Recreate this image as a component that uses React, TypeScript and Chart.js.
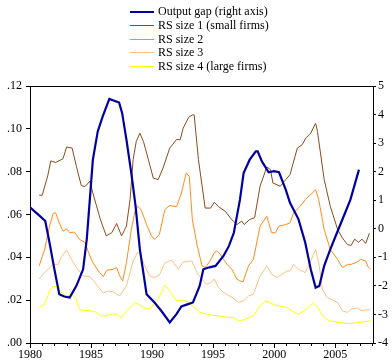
import React, { useEffect, useRef } from "react";
import { Chart, registerables } from "chart.js";

Chart.register(...registerables);

const seriesLabels = [
  "Output gap (right axis)",
  "RS size 1 (small firms)",
  "RS size 2",
  "RS size 3",
  "RS size 4 (large firms)",
];
const seriesColors = ["#0000A0", "#8B4A1A", "#FF8C1A", "#FFC080", "#FFFF00"];

const leftTicks = [0, 0.02, 0.04, 0.06, 0.08, 0.1, 0.12];
const rightTicks = [-4, -3, -2, -1, 0, 1, 2, 3, 4, 5];
const yearTicks = [1980, 1985, 1990, 1995, 2000, 2005];

const outputGap: [number, number][] = [
  [1980.0, 0.75], [1980.35, 0.62], [1980.75, 0.47], [1981.25, 0.27], [1981.6, -0.49],
  [1982.0, -1.42], [1982.4, -2.29], [1982.8, -2.37], [1983.25, -2.41], [1983.8, -2.0],
  [1984.35, -1.42], [1984.65, -0.37], [1984.9, 1.02], [1985.15, 2.42], [1985.55, 3.41],
  [1985.95, 3.93], [1986.5, 4.55], [1987.3, 4.42], [1987.55, 4.05], [1987.9, 3.12],
  [1988.3, 1.95], [1988.65, 0.79], [1989.0, -0.72], [1989.55, -2.29], [1990.2, -2.58],
  [1990.75, -2.87], [1991.45, -3.28], [1992.0, -2.99], [1992.4, -2.72], [1992.95, -2.64],
  [1993.35, -2.58], [1993.9, -2.0], [1994.2, -1.42], [1994.7, -1.35], [1995.2, -1.3],
  [1995.85, -0.95], [1996.3, -0.6], [1996.7, -0.14], [1997.2, 1.02], [1997.5, 1.95],
  [1998.0, 2.42], [1998.5, 2.71], [1998.65, 2.71], [1999.0, 2.36], [1999.55, 1.98],
  [2000.0, 2.02], [2000.4, 1.98], [2000.95, 1.37], [2001.3, 0.91], [2002.0, 0.33],
  [2002.55, -0.49], [2003.0, -1.42], [2003.4, -2.06], [2003.7, -2.0], [2003.9, -1.65],
  [2004.1, -1.3], [2004.6, -0.72], [2005.15, -0.14], [2005.7, 0.44], [2006.25, 1.02],
  [2006.95, 2.07],
];

const rsSize1: [number, number][] = [
  [1980.75, 0.069], [1981.0, 0.069], [1981.45, 0.078], [1981.7, 0.085], [1982.1, 0.0843],
  [1982.7, 0.086], [1983.0, 0.0915], [1983.45, 0.091], [1983.8, 0.0825], [1984.2, 0.0735],
  [1984.5, 0.073], [1984.9, 0.0755], [1985.15, 0.07], [1985.45, 0.064], [1985.75, 0.058],
  [1986.25, 0.05], [1986.7, 0.0515], [1987.1, 0.0558], [1987.5, 0.05], [1987.9, 0.0546],
  [1988.2, 0.067], [1988.45, 0.0856], [1988.7, 0.094], [1989.0, 0.098], [1989.3, 0.094],
  [1989.7, 0.0856], [1990.1, 0.077], [1990.5, 0.0763], [1990.9, 0.0817], [1991.45, 0.091],
  [1992.0, 0.095], [1992.3, 0.0949], [1992.55, 0.1003], [1993.0, 0.1054], [1993.3, 0.1065],
  [1993.45, 0.1065], [1993.8, 0.0856], [1994.35, 0.063], [1994.8, 0.063], [1995.1, 0.0657],
  [1995.45, 0.0636], [1996.0, 0.0615], [1996.4, 0.0585], [1996.65, 0.0569], [1996.95, 0.0553],
  [1997.35, 0.0569], [1997.55, 0.0553], [1998.0, 0.0577], [1998.4, 0.0585], [1998.85, 0.0732],
  [1999.4, 0.0822], [1999.7, 0.081], [1999.9, 0.0747], [2000.5, 0.0732], [2000.95, 0.0763],
  [2001.3, 0.0786], [2001.9, 0.091], [2002.3, 0.0926], [2002.6, 0.0957], [2003.0, 0.098],
  [2003.4, 0.1026], [2003.55, 0.0988], [2004.1, 0.0763], [2004.6, 0.0639], [2005.2, 0.053],
  [2005.6, 0.049], [2006.0, 0.046], [2006.3, 0.0455], [2006.6, 0.0485], [2006.9, 0.047],
  [2007.2, 0.0485], [2007.5, 0.0465], [2007.8, 0.0512],
];

const rsSize2: [number, number][] = [
  [1980.75, 0.036], [1981.2, 0.0437], [1981.6, 0.0546], [1981.9, 0.0605], [1982.1, 0.0608],
  [1982.4, 0.0561], [1982.7, 0.0522], [1983.0, 0.0533], [1983.25, 0.0515], [1983.65, 0.0518],
  [1984.05, 0.0484], [1984.5, 0.047], [1984.75, 0.043], [1985.15, 0.0375], [1985.7, 0.0329],
  [1986.0, 0.031], [1986.3, 0.034], [1986.8, 0.0344], [1987.1, 0.0352], [1987.35, 0.0313],
  [1987.6, 0.029], [1987.9, 0.0375], [1988.3, 0.053], [1988.6, 0.0615], [1988.8, 0.0639],
  [1989.1, 0.0623], [1989.55, 0.0553], [1989.95, 0.05], [1990.2, 0.0484], [1990.6, 0.0507],
  [1991.05, 0.0623], [1991.45, 0.0642], [1992.0, 0.0636], [1992.4, 0.07], [1992.8, 0.0794],
  [1993.05, 0.0778], [1993.3, 0.0577], [1993.7, 0.0453], [1994.1, 0.036], [1994.35, 0.0352],
  [1994.75, 0.0383], [1995.1, 0.0422], [1995.3, 0.043], [1995.6, 0.0414], [1995.85, 0.039],
  [1996.25, 0.036], [1996.55, 0.0344], [1996.95, 0.0298], [1997.2, 0.029], [1997.45, 0.0285],
  [1997.9, 0.036], [1998.3, 0.039], [1998.85, 0.0546], [1999.4, 0.0592], [1999.8, 0.0515],
  [2000.1, 0.0515], [2000.4, 0.0546], [2000.95, 0.0553], [2001.3, 0.0561], [2001.6, 0.0608],
  [2002.15, 0.0639], [2002.55, 0.067], [2003.0, 0.0693], [2003.4, 0.0716], [2003.65, 0.067],
  [2003.95, 0.0577], [2004.1, 0.053], [2004.6, 0.0437], [2005.2, 0.039], [2005.6, 0.0352],
  [2006.0, 0.0367], [2006.3, 0.0367], [2006.7, 0.0375], [2007.1, 0.039], [2007.5, 0.0383],
  [2007.7, 0.0355], [2007.9, 0.0345],
];

const rsSize3: [number, number][] = [
  [1980.75, 0.03], [1981.2, 0.0329], [1981.9, 0.0367], [1982.3, 0.0367], [1982.55, 0.0399],
  [1983.0, 0.0434], [1983.4, 0.039], [1983.8, 0.0352], [1984.35, 0.0313], [1984.9, 0.031],
  [1985.45, 0.0274], [1986.0, 0.0233], [1986.4, 0.0243], [1986.8, 0.0239], [1987.35, 0.022],
  [1987.9, 0.0267], [1988.45, 0.0383], [1988.8, 0.0422], [1989.0, 0.0419], [1989.4, 0.036],
  [1989.8, 0.0313], [1990.2, 0.0306], [1990.6, 0.0316], [1991.05, 0.0375], [1991.6, 0.0387],
  [1992.15, 0.0344], [1992.55, 0.0378], [1993.25, 0.0383], [1993.75, 0.0321], [1994.45, 0.0274],
  [1994.8, 0.0282], [1995.1, 0.0298], [1995.45, 0.0259], [1995.85, 0.0236], [1996.55, 0.0213],
  [1997.1, 0.0189], [1997.5, 0.0197], [1997.9, 0.022], [1998.3, 0.0228], [1998.85, 0.0313],
  [1999.4, 0.036], [1999.8, 0.0321], [2000.25, 0.0306], [2000.65, 0.0321], [2001.05, 0.0336],
  [2001.3, 0.0336], [2001.6, 0.0367], [2002.0, 0.0344], [2002.55, 0.0329], [2003.0, 0.0383],
  [2003.4, 0.0437], [2003.7, 0.036], [2003.95, 0.0251], [2004.35, 0.0213], [2005.2, 0.0189],
  [2005.6, 0.015], [2006.0, 0.0143], [2006.3, 0.0158], [2006.8, 0.0164], [2007.2, 0.015],
  [2007.5, 0.0155], [2007.9, 0.0155],
];

const rsSize4: [number, number][] = [
  [1980.75, 0.0166], [1981.2, 0.0181], [1981.6, 0.0243], [1981.9, 0.0264], [1982.2, 0.0264],
  [1982.55, 0.0236], [1983.0, 0.022], [1983.4, 0.0228], [1983.8, 0.0205], [1984.05, 0.0155],
  [1985.0, 0.015], [1985.45, 0.0143], [1985.85, 0.0127], [1986.25, 0.0127], [1986.65, 0.0135],
  [1987.1, 0.0135], [1987.5, 0.0118], [1987.9, 0.015], [1988.6, 0.0189], [1989.0, 0.0177],
  [1989.55, 0.0158], [1989.95, 0.0166], [1990.5, 0.0205], [1991.05, 0.027], [1991.45, 0.0243],
  [1992.0, 0.0197], [1992.55, 0.0201], [1993.1, 0.0186], [1993.9, 0.0143], [1994.75, 0.0131],
  [1995.6, 0.0125], [1996.2, 0.012], [1996.7, 0.0118], [1997.1, 0.0104], [1997.5, 0.0108],
  [1998.3, 0.0127], [1998.85, 0.0174], [1999.3, 0.0197], [2000.1, 0.0177], [2000.5, 0.0172],
  [2001.05, 0.0166], [2001.5, 0.0148], [2002.0, 0.0135], [2002.45, 0.015], [2002.8, 0.0166],
  [2003.2, 0.0189], [2003.45, 0.0174], [2004.1, 0.012], [2004.5, 0.0104], [2005.0, 0.0099],
  [2005.7, 0.0093], [2006.3, 0.009], [2006.8, 0.0096], [2007.4, 0.0099], [2007.9, 0.0104],
];

const FONT = "'Liberation Serif', 'Times New Roman', serif";

const frameAndMinorTicks = {
  id: "frameAndMinorTicks",
  afterDraw(chart: any) {
    const { ctx, chartArea, scales } = chart;
    const xs = scales.x;
    ctx.save();
    ctx.strokeStyle = "#000";
    ctx.lineWidth = 1;
    ctx.beginPath();
    const top = Math.round(chartArea.top) + 0.5;
    ctx.moveTo(chartArea.left, top);
    ctx.lineTo(chartArea.right, top);
    const bottom = Math.round(chartArea.bottom);
    for (let yr = Math.ceil(xs.min); yr <= xs.max; yr++) {
      if (yr % 5 === 0) continue;
      const px = Math.round(xs.getPixelForValue(yr)) + 0.5;
      ctx.moveTo(px, bottom);
      ctx.lineTo(px, bottom + 3);
    }
    ctx.stroke();
    ctx.restore();
  },
};

export default function App() {
  const canvasRef = useRef<HTMLCanvasElement | null>(null);

  useEffect(() => {
    const canvas = canvasRef.current;
    if (!canvas) return;
    const series = [outputGap, rsSize1, rsSize2, rsSize3, rsSize4];
    const chart = new Chart(canvas, {
      type: "line",
      data: {
        datasets: series.map((s, i) => ({
          label: seriesLabels[i],
          data: s.map(([x, y]) => ({ x, y })),
          borderColor: seriesColors[i],
          backgroundColor: seriesColors[i],
          borderWidth: i === 0 ? 2.2 : 1,
          pointRadius: 0,
          tension: 0,
          fill: false,
          yAxisID: i === 0 ? "yR" : "yL",
        })),
      },
      options: {
        animation: false,
        responsive: false,
        devicePixelRatio: 1,
        layout: { padding: { top: 86, left: 0, right: 0, bottom: 0 } },
        plugins: { legend: { display: false }, tooltip: { enabled: false } },
        font: { family: FONT, size: 12 },
        scales: {
          x: {
            type: "linear",
            min: 1980,
            max: 2008.1,
            afterBuildTicks: (s: any) => {
              s.ticks = yearTicks.map((v) => ({ value: v }));
            },
            afterFit: (s: any) => {
              s.height = 19;
            },
            ticks: {
              autoSkip: false,
              maxRotation: 0,
              padding: 0,
              color: "#000",
              font: { family: FONT, size: 12 },
              callback: (v: any) => String(v),
            },
            grid: { drawOnChartArea: false, tickLength: 5, tickColor: "#000" },
            border: { display: true, color: "#000", width: 1 },
          },
          yL: {
            type: "linear",
            position: "left",
            min: 0,
            max: 0.12,
            afterBuildTicks: (s: any) => {
              s.ticks = leftTicks.map((v) => ({ value: v }));
            },
            afterFit: (s: any) => {
              s.width = 30;
            },
            ticks: {
              padding: 4,
              color: "#000",
              font: { family: FONT, size: 12 },
              callback: (v: any) => Number(v).toFixed(2).replace(/^0/, ""),
            },
            grid: { drawOnChartArea: false, tickLength: 4, tickColor: "#000" },
            border: { display: true, color: "#000", width: 1 },
          },
          yR: {
            type: "linear",
            position: "right",
            min: -4,
            max: 5,
            afterBuildTicks: (s: any) => {
              s.ticks = rightTicks.map((v) => ({ value: v }));
            },
            afterFit: (s: any) => {
              s.width = 19;
            },
            ticks: {
              padding: 2,
              color: "#000",
              font: { family: FONT, size: 12 },
              callback: (v: any) => String(v),
            },
            grid: { drawOnChartArea: false, tickLength: 3, tickColor: "#000" },
            border: { display: true, color: "#000", width: 1 },
          },
        },
      },
      plugins: [frameAndMinorTicks],
    } as any);
    return () => chart.destroy();
  }, []);

  return (
    <div style={{ position: "absolute", left: 0, top: 0, width: 392, height: 362, background: "#fff" }}>
      <canvas ref={canvasRef} width={392} height={362} style={{ display: "block", width: 392, height: 362 }} />
      <div style={{ position: "absolute", left: 0, top: 5, fontFamily: FONT, fontSize: 12, color: "#000" }}>
        {seriesLabels.map((label, i) => (
          <div key={label} style={{ position: "relative", height: 13.75, lineHeight: "13.75px", whiteSpace: "nowrap" }}>
            <span
              style={{
                position: "absolute",
                left: 130,
                top: 6,
                width: 24,
                height: i === 0 ? 2 : 1,
                background: seriesColors[i],
              }}
            />
            <span style={{ position: "absolute", left: 158, top: 0 }}>{label}</span>
          </div>
        ))}
      </div>
    </div>
  );
}
